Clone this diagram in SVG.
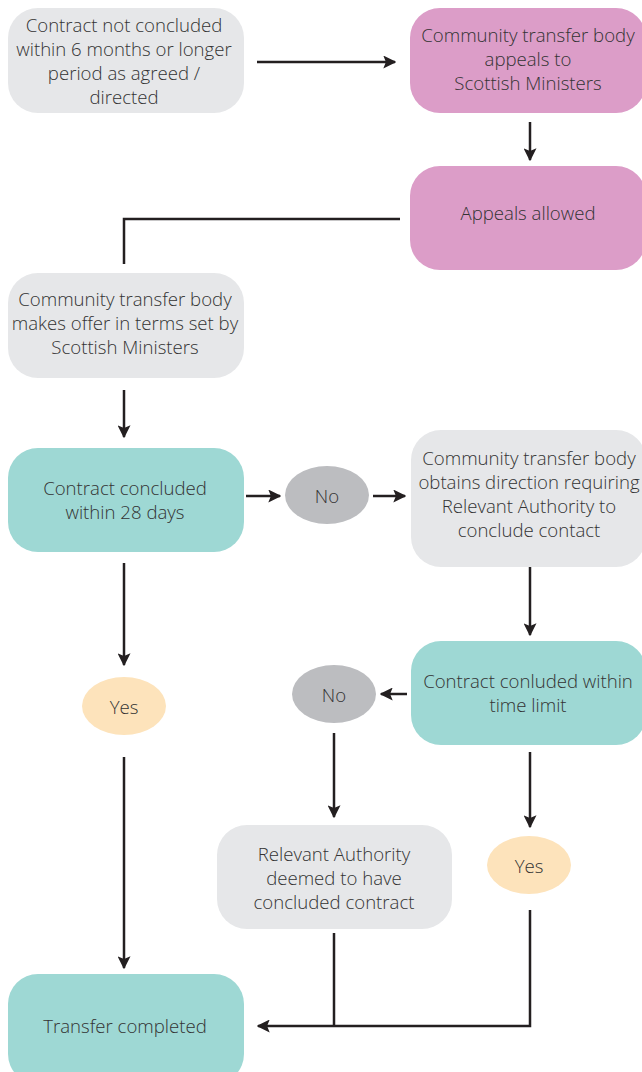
<svg xmlns="http://www.w3.org/2000/svg" width="642" height="1072" viewBox="0 0 642 1072">
  <defs>
    <marker id="arrow" viewBox="0 0 10 10" refX="9" refY="5" markerWidth="5.2" markerHeight="5.2" orient="auto" markerUnits="strokeWidth">
      <path d="M0,0 L10,5 L0,10 L2,5 z" fill="#231f20"/>
    </marker>
  </defs>
  <style>
    text { font-family: "Open Sans", "Liberation Sans", sans-serif; font-size: 18.6px; font-weight: 300; fill: #333333; text-anchor: middle; dominant-baseline: central; }
    .grey { fill: #e6e7e9; }
    .pink { fill: #dc9dc8; }
    .teal { fill: #9ed8d4; }
    .no { fill: #bcbdc0; }
    .yes { fill: #fde3bb; }
    .line { fill: none; stroke: #231f20; stroke-width: 2.5; }
    .arr { marker-end: url(#arrow); }
  </style>

  <g id="connectors">
    <line class="line arr" x1="257" y1="62" x2="395" y2="62"/>
    <line class="line arr" x1="530" y1="122" x2="530" y2="160"/>
    <polyline class="line" points="400,219 124,219 124,264"/>
    <line class="line arr" x1="124" y1="390" x2="124" y2="437"/>
    <line class="line arr" x1="246" y1="496" x2="280" y2="496"/>
    <line class="line arr" x1="373" y1="496" x2="405" y2="496"/>
    <line class="line arr" x1="530" y1="562" x2="530" y2="635"/>
    <line class="line arr" x1="407" y1="694" x2="381" y2="694"/>
    <line class="line arr" x1="334" y1="733" x2="334" y2="817"/>
    <line class="line arr" x1="530" y1="752" x2="530" y2="827"/>
    <line class="line arr" x1="124" y1="563" x2="124" y2="665"/>
    <line class="line arr" x1="124" y1="757" x2="124" y2="968"/>
    <line class="line" x1="334" y1="933" x2="334" y2="1026"/>
    <polyline class="line arr" points="530,910 530,1026 258,1026"/>
  </g>

  <g id="not-concluded">
    <rect class="grey" x="8" y="8" width="236" height="105" rx="30"/>
    <text x="124" y="24">Contract not concluded</text>
    <text x="124" y="48">within 6 months or longer</text>
    <text x="124" y="72">period as agreed /</text>
    <text x="124" y="96">directed</text>
  </g>

  <g id="appeal">
    <rect class="pink" x="410" y="8" width="236" height="105" rx="30"/>
    <text x="528" y="34">Community transfer body</text>
    <text x="528" y="58">appeals to</text>
    <text x="528" y="82">Scottish Ministers</text>
  </g>

  <g id="appeals-allowed">
    <rect class="pink" x="410" y="166" width="236" height="104" rx="30"/>
    <text x="528" y="212">Appeals allowed</text>
  </g>

  <g id="makes-offer">
    <rect class="grey" x="8" y="273" width="236" height="105" rx="30"/>
    <text x="125" y="298">Community transfer body</text>
    <text x="125" y="322">makes offer in terms set by</text>
    <text x="125" y="346">Scottish Ministers</text>
  </g>

  <g id="within-28-days">
    <rect class="teal" x="8" y="448" width="236" height="104" rx="30"/>
    <text x="125" y="487">Contract concluded</text>
    <text x="125" y="511">within 28 days</text>
  </g>

  <g id="no-1">
    <ellipse class="no" cx="327" cy="495" rx="42" ry="29"/>
    <text x="327" y="495">No</text>
  </g>

  <g id="obtains-direction">
    <rect class="grey" x="411" y="430" width="235" height="137" rx="30"/>
    <text x="529" y="457">Community transfer body</text>
    <text x="529" y="481">obtains direction requiring</text>
    <text x="529" y="505">Relevant Authority to</text>
    <text x="529" y="529">conclude contact</text>
  </g>

  <g id="within-time-limit">
    <rect class="teal" x="411" y="641" width="235" height="104" rx="30"/>
    <text x="528" y="680">Contract conluded within</text>
    <text x="528" y="704">time limit</text>
  </g>

  <g id="no-2">
    <ellipse class="no" cx="334" cy="694" rx="42" ry="29"/>
    <text x="334" y="694">No</text>
  </g>

  <g id="yes-1">
    <ellipse class="yes" cx="124" cy="706" rx="42" ry="29"/>
    <text x="124" y="706">Yes</text>
  </g>

  <g id="deemed">
    <rect class="grey" x="217" y="825" width="235" height="104" rx="30"/>
    <text x="334" y="853">Relevant Authority</text>
    <text x="334" y="877">deemed to have</text>
    <text x="334" y="901">concluded contract</text>
  </g>

  <g id="yes-2">
    <ellipse class="yes" cx="529" cy="865" rx="42" ry="29"/>
    <text x="529" y="865">Yes</text>
  </g>

  <g id="transfer-completed">
    <rect class="teal" x="8" y="974" width="236" height="110" rx="30"/>
    <text x="125" y="1025">Transfer completed</text>
  </g>
</svg>
